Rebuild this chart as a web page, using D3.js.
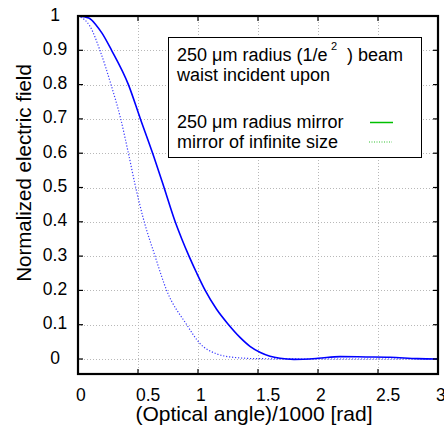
<!DOCTYPE html>
<html>
<head>
<meta charset="utf-8">
<script src="https://cdn.jsdelivr.net/npm/d3@7"></script>
<style>
    body { margin: 0; background: #fff; }
    svg text { font-family: "Liberation Sans", Arial, sans-serif; fill: #000; }
</style>
</head>
<body>
<script>
"use strict";

// angle (x 1000 rad) vs field
const mirrorAngle = [0, 0.09, 0.15, 0.2, 0.28, 0.42, 0.52, 0.622, 0.717, 0.81,
                     0.865, 0.925, 0.99, 1.06, 1.155, 1.255, 1.35, 1.433, 1.52,
                     1.6, 1.683, 1.8, 2.0, 2.183, 2.4, 2.6, 2.83, 3.0];
const mirrorField = [1, 0.994, 0.974, 0.95, 0.9, 0.8, 0.7, 0.6, 0.5, 0.4,
                     0.35, 0.3, 0.25, 0.2, 0.145, 0.1, 0.063, 0.037, 0.019,
                     0.008, 0.002, -0.001, 0.002, 0.007, 0.006, 0.005, 0.001, 0];

const infiniteAngle = [0, 0.1, 0.183, 0.275, 0.356, 0.42, 0.481, 0.544, 0.642,
                       0.739, 0.906, 1.017, 1.156, 1.322, 1.5, 2.0, 2.5, 3.0];
const infiniteField = [1, 0.97, 0.9, 0.8, 0.7, 0.6, 0.5, 0.41, 0.3,
                       0.2, 0.1, 0.045, 0.015, 0.004, 0.001, 0, 0, 0];

const xTicks = [0, 0.5, 1, 1.5, 2, 2.5, 3];
const xTickLabels = ["0", "0.5", "1", "1.5", "2", "2.5", "3"];
const yTicks = [0, 0.1, 0.2, 0.3, 0.4, 0.5, 0.6, 0.7, 0.8, 0.9, 1];
const yTickLabels = ["0", "0.1", "0.2", "0.3", "0.4", "0.5", "0.6", "0.7", "0.8", "0.9", "1"];

const xTitle = "(Optical angle)/1000 [rad]";
const yTitle = "Normalized electric field";
const legendSeries = ["250 \u03bcm radius mirror", "mirror of infinite size"];

const width = 444, height = 434;
const box = { left: 78, right: 438, top: 16, bottom: 374 };

const x = d3.scaleLinear().domain([0, 3]).range([box.left, box.right]);
const y = d3.scaleLinear().domain([-0.0437, 1]).range([box.bottom, box.top]);

const svg = d3.select("body").append("svg")
              .attr("width", width)
              .attr("height", height);

// dotted grid
const grid = svg.append("g")
                .attr("stroke", "#b8b8b8")
                .attr("stroke-width", 1)
                .attr("stroke-dasharray", "1,2");

grid.selectAll(".vgrid").data(xTicks.slice(1, -1))
    .enter().append("line")
    .attr("x1", d => x(d) + 0.5).attr("x2", d => x(d) + 0.5)
    .attr("y1", box.top).attr("y2", box.bottom);

grid.selectAll(".hgrid").data(yTicks.slice(0, -1))
    .enter().append("line")
    .attr("x1", box.left).attr("x2", box.right)
    .attr("y1", d => Math.round(y(d)) + 0.5).attr("y2", d => Math.round(y(d)) + 0.5);

// curves
const line = d3.line().curve(d3.curveMonotoneX);

svg.append("path")
   .datum(infiniteAngle.map((a, i) => [x(a), y(infiniteField[i])]))
   .attr("fill", "none")
   .attr("stroke", "#3a3aff")
   .attr("stroke-width", 1.2)
   .attr("stroke-dasharray", "1.2,1.8")
   .attr("d", line);

svg.append("path")
   .datum(mirrorAngle.map((a, i) => [x(a), y(mirrorField[i])]))
   .attr("fill", "none")
   .attr("stroke", "#0000ff")
   .attr("stroke-width", 1.6)
   .attr("d", line);

// inward ticks on all four sides
const ticks = svg.append("g").attr("stroke", "#000").attr("stroke-width", 1.2);
const tickLen = 5;

ticks.selectAll(".xb").data(xTicks.slice(1, -1))
     .enter().append("line")
     .attr("x1", d => x(d)).attr("x2", d => x(d))
     .attr("y1", box.bottom).attr("y2", box.bottom - tickLen);
ticks.selectAll(".xt").data(xTicks.slice(1, -1))
     .enter().append("line")
     .attr("x1", d => x(d)).attr("x2", d => x(d))
     .attr("y1", box.top).attr("y2", box.top + tickLen);
ticks.selectAll(".yl").data(yTicks.slice(0, -1))
     .enter().append("line")
     .attr("x1", box.left).attr("x2", box.left + tickLen)
     .attr("y1", d => y(d)).attr("y2", d => y(d));
ticks.selectAll(".yr").data(yTicks.slice(0, -1))
     .enter().append("line")
     .attr("x1", box.right).attr("x2", box.right - tickLen)
     .attr("y1", d => y(d)).attr("y2", d => y(d));

// frame
svg.append("rect")
   .attr("x", box.left).attr("y", box.top)
   .attr("width", box.right - box.left)
   .attr("height", box.bottom - box.top)
   .attr("fill", "none")
   .attr("stroke", "#000")
   .attr("stroke-width", 2.2);

// tick labels
svg.selectAll(".xlab").data(xTicks)
   .enter().append("text")
   .attr("x", d => x(d) - 2)
   .attr("y", 401)
   .attr("font-size", 17.5)
   .text((d, i) => xTickLabels[i]);

svg.selectAll(".ylab").data(yTicks)
   .enter().append("text")
   .attr("x", 55)
   .attr("y", d => y(d) + 4.5)
   .attr("text-anchor", "middle")
   .attr("font-size", 17.5)
   .text((d, i) => yTickLabels[i]);

// axis titles
svg.append("text")
   .attr("x", 254).attr("y", 421)
   .attr("text-anchor", "middle")
   .attr("font-size", 21)
   .text(xTitle);

svg.append("text")
   .attr("transform", "translate(31,173) rotate(-90)")
   .attr("text-anchor", "middle")
   .attr("font-size", 20.5)
   .text(yTitle);

// legend
const legend = svg.append("g");

legend.append("rect")
      .attr("x", 168.5).attr("y", 37.5)
      .attr("width", 253).attr("height", 120)
      .attr("fill", "#fff")
      .attr("stroke", "#000")
      .attr("stroke-width", 1);

const head = legend.append("text")
                   .attr("y", 60.5)
                   .attr("font-size", 18);
head.append("tspan").attr("x", 177).text("250 \u03bcm radius (1/e");
head.append("tspan").attr("x", 331).attr("dy", -11).attr("font-size", 11).text("2");
head.append("tspan").attr("x", 347).attr("dy", 11).text(") beam");

legend.append("text")
      .attr("x", 177).attr("y", 81)
      .attr("font-size", 18)
      .text("waist incident upon");

legend.selectAll(".entry").data(legendSeries)
      .enter().append("text")
      .attr("x", 177)
      .attr("y", (d, i) => 128 + i * 20)
      .attr("font-size", 18)
      .text(d => d);

legend.append("line")
      .attr("x1", 370).attr("x2", 393)
      .attr("y1", 122.5).attr("y2", 122.5)
      .attr("stroke", "#00c000")
      .attr("stroke-width", 1.5);

legend.append("line")
      .attr("x1", 369).attr("x2", 392)
      .attr("y1", 142).attr("y2", 142)
      .attr("stroke", "#30c030")
      .attr("stroke-width", 1)
      .attr("stroke-dasharray", "1,1.5");
</script>
</body>
</html>
